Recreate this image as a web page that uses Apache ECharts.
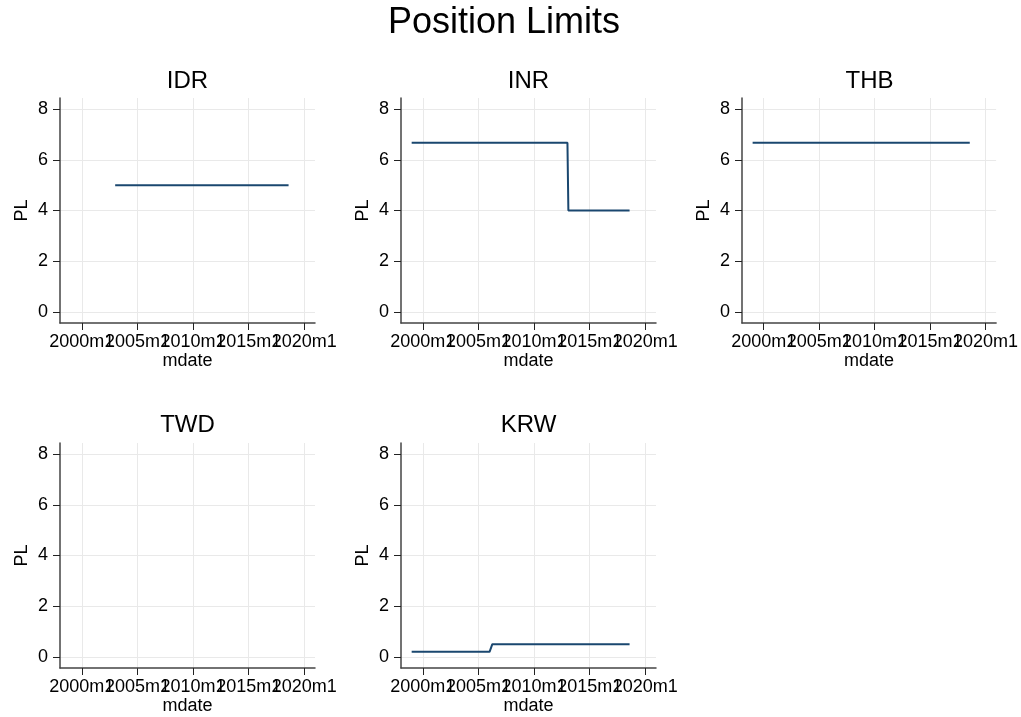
<!DOCTYPE html>
<html>

<head>
  <meta charset="utf-8" />
  <script src="https://cdn.jsdelivr.net/npm/echarts@6/dist/echarts.min.js"></script>
</head>

<body style="margin:0;background:#fff;">
  <div id="main" style="width: 1021px;height:717px;"></div>
  <script type="text/javascript">
    var myChart = echarts.init(document.getElementById('main'));

    // data (dates in Stata monthly form)
    var panels = ['IDR', 'INR', 'THB', 'TWD', 'KRW']
    var idrDates = ['2003m1', '2018m8']
    var idrValues = [5, 5]
    var inrDates = ['1999m1', '2013m1', '2013m2', '2018m8']
    var inrValues = [6.67, 6.67, 4, 4]
    var thbDates = ['1999m1', '2018m8']
    var thbValues = [6.67, 6.67]
    var twdDates = []
    var twdValues = []
    var krwDates = ['1999m1', '2006m1', '2006m4', '2018m8']
    var krwValues = [0.2, 0.2, 0.5, 0.5]
    var yTicks = [0, 2, 4, 6, 8]
    var xTickLabels = ['2000m1', '2005m1', '2010m1', '2015m1', '2020m1']

    var allDates = [idrDates, inrDates, thbDates, twdDates, krwDates]
    var allValues = [idrValues, inrValues, thbValues, twdValues, krwValues]

    // months since 1960m1, like Stata %tm
    function tm(s) {
      var p = s.split('m')
      return (parseInt(p[0]) - 1960) * 12 + parseInt(p[1]) - 1
    }
    function tmLabel(v) {
      var y = 1960 + Math.floor(v / 12)
      return y + 'm' + (v - (y - 1960) * 12 + 1)
    }
    var xTicks = xTickLabels.map(tm)
    // the labels overlap like in Stata, so split them over two axes
    // (echarts would otherwise drop the overlapping ones)
    var xTicksA = xTicks.filter(function (v, k) { return k % 2 === 0 })
    var xTicksB = xTicks.filter(function (v, k) { return k % 2 === 1 })

    var font = "'Liberation Sans', Arial, sans-serif"
    var fs = 18
    var lefts = [60, 401, 742]
    var tops = [98, 443]
    var w = 255, h = 225

    var grids = [], xAxes = [], yAxes = [], series = [], texts = []
    panels.forEach(function (name, i) {
      var col = i % 3, row = Math.floor(i / 3)
      grids.push({ left: lefts[col], top: tops[row], width: w, height: h })
      xAxes.push({
        gridIndex: i, type: 'value', min: 456.5, max: 731.5,
        name: 'mdate', nameLocation: 'middle', nameGap: 29,
        nameTextStyle: { fontSize: fs, color: '#000', fontFamily: font },
        axisLine: { show: true, onZero: false, lineStyle: { color: '#444', width: 1.5 } },
        axisTick: { show: true, length: 7, customValues: xTicksA, lineStyle: { color: '#222' } },
        axisLabel: {
          customValues: xTicksA, formatter: tmLabel, fontSize: fs, color: '#000', fontFamily: font,
          margin: 10, showMinLabel: true, showMaxLabel: true
        },
        splitLine: { show: true, lineStyle: { color: '#e9e9e9' } },
        z: 3
      })
      xAxes.push({
        gridIndex: i, type: 'value', min: 456.5, max: 731.5, position: 'bottom', offset: 0,
        axisLine: { show: false, onZero: false },
        axisTick: { show: true, length: 7, customValues: xTicksB, lineStyle: { color: '#222' } },
        axisLabel: {
          customValues: xTicksB, formatter: tmLabel, fontSize: fs, color: '#000', fontFamily: font,
          margin: 10, showMinLabel: true, showMaxLabel: true
        },
        splitLine: { show: true, lineStyle: { color: '#e9e9e9' } },
        z: 2
      })
      yAxes.push({
        gridIndex: i, type: 'value', min: -0.44, max: 8.44,
        name: 'PL', nameLocation: 'middle', nameGap: 29,
        nameTextStyle: { fontSize: fs, color: '#000', fontFamily: font },
        axisLine: { show: true, onZero: false, lineStyle: { color: '#444', width: 1.5 } },
        axisTick: { show: true, length: 7, customValues: yTicks, lineStyle: { color: '#222' } },
        axisLabel: {
          customValues: yTicks, fontSize: fs, color: '#000', fontFamily: font, margin: 12,
          showMinLabel: true, showMaxLabel: true
        },
        splitLine: { show: true, lineStyle: { color: '#e9e9e9' } }
      })
      series.push({
        type: 'line', xAxisIndex: 2 * i, yAxisIndex: i, showSymbol: false,
        lineStyle: { color: '#1a476f', width: 2 },
        data: allDates[i].map(function (d, k) { return [tm(d), allValues[i][k]] })
      })
      texts.push({
        type: 'text', x: lefts[col] + w / 2, y: row === 0 ? 81 : 425,
        style: { text: name, font: '24px ' + font, fill: '#000', align: 'center', verticalAlign: 'middle' }
      })
    })
    texts.push({
      type: 'text', x: 504, y: 23,
      style: { text: 'Position Limits', font: '36px ' + font, fill: '#000', align: 'center', verticalAlign: 'middle' }
    })

    var option = {
      animation: false,
      backgroundColor: '#fff',
      grid: grids,
      xAxis: xAxes,
      yAxis: yAxes,
      series: series,
      graphic: texts
    };

    myChart.setOption(option);
  </script>
</body>

</html>
